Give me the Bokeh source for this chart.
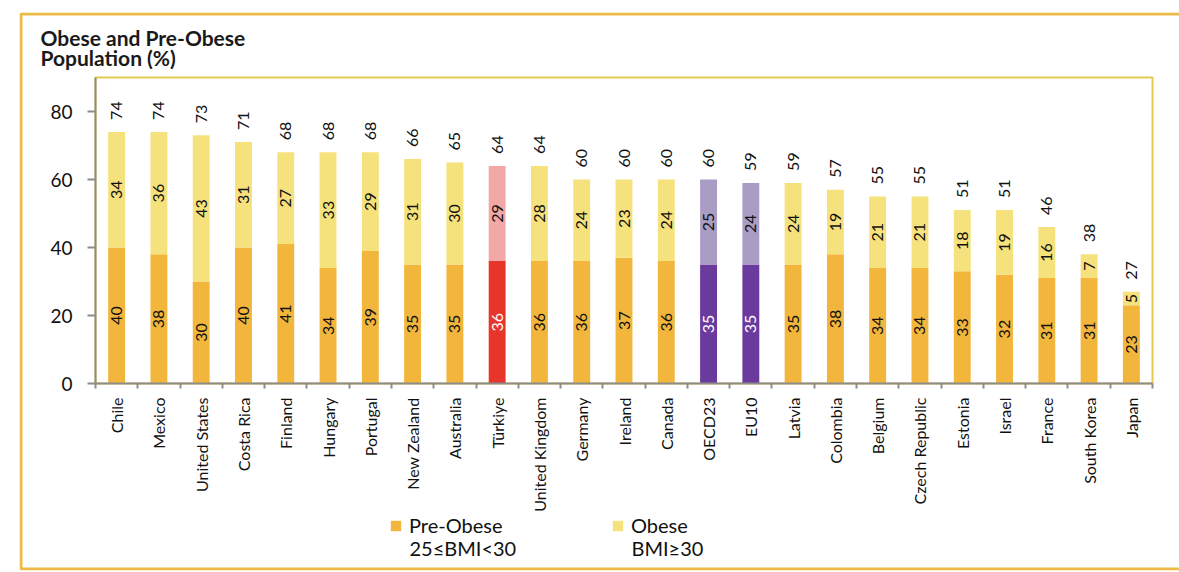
import math
from bokeh.plotting import figure
from bokeh.models import (ColumnDataSource, FixedTicker, Legend, LegendItem, Label,
                          BoxAnnotation, Range1d)
from bokeh.embed import file_html
from bokeh.resources import INLINE
from bokeh.core.properties import value

countries = ["Chile", "Mexico", "United States", "Costa Rica", "Finland", "Hungary",
             "Portugal", "New Zealand", "Australia", "Türkiye", "United Kingdom", "Germany",
             "Ireland", "Canada", "OECD23", "EU10", "Latvia", "Colombia", "Belgium",
             "Czech Republic", "Estonia", "Israel", "France", "South Korea", "Japan"]
pre_obese = [40, 38, 30, 40, 41, 34, 39, 35, 35, 36, 36, 36, 37, 36, 35, 35, 35, 38, 34,
             34, 33, 32, 31, 31, 23]
obese = [34, 36, 43, 31, 27, 33, 29, 31, 30, 29, 28, 24, 23, 24, 25, 24, 24, 19, 21, 21,
         18, 19, 16, 7, 5]
totals = [74, 74, 73, 71, 68, 68, 68, 66, 65, 64, 64, 60, 60, 60, 60, 59, 59, 57, 55, 55,
          51, 51, 46, 38, 27]
y_ticks = [0, 20, 40, 60, 80]
title_lines = ["Obese and Pre-Obese", "Population (%)"]
legend_names = ["Pre-Obese", "Obese"]
legend_ranges = ["25≤BMI<30", "BMI≥30"]

PRE_COL, OB_COL = "#F2B63C", "#F6E27C"
TR_PRE, TR_OB = "#E8352B", "#F2A8A6"
AV_PRE, AV_OB = "#6B3A9D", "#A99CC5"
FONT = "Lato"
N = len(countries)

# pixel geometry of the plot area (page px) -> data helpers
PLOT_L, PLOT_R, PLOT_Y0 = 95.0, 1152.0, 383.0
PX_X = (PLOT_R - PLOT_L) / N
PX_Y = 3.4


def dx(px):
    return -0.5 + (px - PLOT_L) / PX_X


def dy(py):
    return (PLOT_Y0 - py) / PX_Y


xs = list(range(N))
pre_c, ob_c, pre_tc = [], [], []
for c in countries:
    if c == "Türkiye":
        pre_c.append(TR_PRE); ob_c.append(TR_OB); pre_tc.append("white")
    elif c in ("OECD23", "EU10"):
        pre_c.append(AV_PRE); ob_c.append(AV_OB); pre_tc.append("white")
    else:
        pre_c.append(PRE_COL); ob_c.append(OB_COL); pre_tc.append("#111111")

src = ColumnDataSource(dict(
    x=xs, pre=pre_obese, total=totals,
    pre_mid=[v / 2 for v in pre_obese],
    ob_mid=[(p_ + t) / 2 for p_, t in zip(pre_obese, totals)],
    pre_lab=[str(v) for v in pre_obese], ob_lab=[str(v) for v in obese],
    tot_lab=[str(v) for v in totals],
    pre_c=pre_c, ob_c=ob_c, pre_tc=pre_tc))

W, H = 1179, 572
p = figure(width=W, height=H, output_backend="svg", toolbar_location=None,
           x_range=Range1d(dx(19), dx(1179)), y_range=Range1d(dy(570), dy(12)),
           min_border_left=19, min_border_right=0, min_border_top=12,
           min_border_bottom=2, background_fill_color="white",
           border_fill_color="white")
p.xgrid.visible = False
p.ygrid.visible = False
p.outline_line_color = None

# outer frame (right edge runs off the page, as in the reference)
p.add_layout(BoxAnnotation(left=dx(20.5), right=dx(1200), bottom=dy(568.5), top=dy(13.5),
                           fill_alpha=0, line_color="#EDBB45", line_alpha=1,
                           line_width=3, level="underlay"))
# inner plot-area frame (top/right edges visible)
p.add_layout(BoxAnnotation(left=-0.5, right=N - 0.5, bottom=0, top=90, fill_alpha=0,
                           line_color="#E6C94E", line_alpha=1, line_width=2,
                           level="underlay"))

r_pre = p.vbar(x="x", bottom=0, top="pre", width=0.4, fill_color="pre_c",
               line_color=None, source=src)
r_ob = p.vbar(x="x", bottom="pre", top="total", width=0.4, fill_color="ob_c",
              line_color=None, source=src)

p.text(x="x", y="pre_mid", text="pre_lab", angle=math.pi / 2, text_align="center",
       text_baseline="middle", text_font=value(FONT), text_font_size="16px",
       text_color="pre_tc", source=src)
p.text(x="x", y="ob_mid", text="ob_lab", angle=math.pi / 2, text_align="center",
       text_baseline="middle", text_font=value(FONT), text_font_size="16px",
       text_color="#111111", source=src)
p.text(x="x", y="total", text="tot_lab", angle=math.pi / 2, text_align="left",
       text_baseline="middle", y_offset=-12, text_font=value(FONT),
       text_font_size="16px", text_color="#111111", source=src)

# axes
AX = "#8C8C8C"
xa = p.xaxis[0]
xa.fixed_location = 0
xa.bounds = (-0.5, N - 0.5)
xa.ticker = FixedTicker(ticks=xs, minor_ticks=[i - 0.5 for i in range(N + 1)])
xa.major_label_overrides = {i: c for i, c in enumerate(countries)}
xa.major_label_orientation = math.pi / 2
xa.major_tick_line_color = None
xa.major_tick_out = 0
xa.major_tick_in = 0
xa.minor_tick_out = 5
xa.minor_tick_in = 0
xa.minor_tick_line_color = AX
xa.minor_tick_line_width = 2
xa.axis_line_color = AX
xa.axis_line_width = 2
xa.major_label_standoff = 9
xa.major_label_text_font = FONT
xa.major_label_text_font_size = "16px"
xa.major_label_text_color = "#111111"

ya = p.yaxis[0]
ya.fixed_location = -0.5
ya.bounds = (0, 90)
ya.ticker = FixedTicker(ticks=y_ticks)
ya.major_tick_out = 8
ya.major_tick_in = 0
ya.major_tick_line_color = AX
ya.major_tick_line_width = 2
ya.minor_tick_out = 0
ya.minor_tick_in = 0
ya.axis_line_color = AX
ya.axis_line_width = 2
ya.major_label_standoff = 15
ya.major_label_text_font = FONT
ya.major_label_text_font_size = "19px"
ya.major_label_text_color = "#111111"

# title (two lines)
for txt, py in zip(title_lines, [37, 57]):
    p.add_layout(Label(x=dx(40), y=dy(py), text=txt, text_align="left",
                       text_baseline="middle", text_font=FONT, text_font_size="21px",
                       text_font_style="bold", text_color="#1a1a1a"))

# legend (first line of each entry), second lines as labels beneath
GW, GS, LW, SP, LX = 13, 7, 192, 10, 370
legend = Legend(items=[LegendItem(label=legend_names[0], renderers=[r_pre], index=0),
                       LegendItem(label=legend_names[1], renderers=[r_ob], index=0)],
                orientation="horizontal", location=(LX, 33),
                border_line_color=None, background_fill_alpha=0,
                glyph_width=GW, glyph_height=GW, label_standoff=GS, label_width=LW,
                spacing=SP, padding=0, margin=0,
                label_text_font=FONT, label_text_font_size="20px",
                label_text_color="#111111")
p.add_layout(legend, "center")
for k, txt in enumerate(legend_ranges):
    px = 19 + LX + GW + GS + k * (GW + GS + LW + SP)
    p.add_layout(Label(x=dx(px), y=dy(547), text=txt, text_align="left",
                       text_baseline="middle", text_font=FONT, text_font_size="20px",
                       text_color="#111111"))

open("out.html", "w").write(file_html(p, INLINE))
